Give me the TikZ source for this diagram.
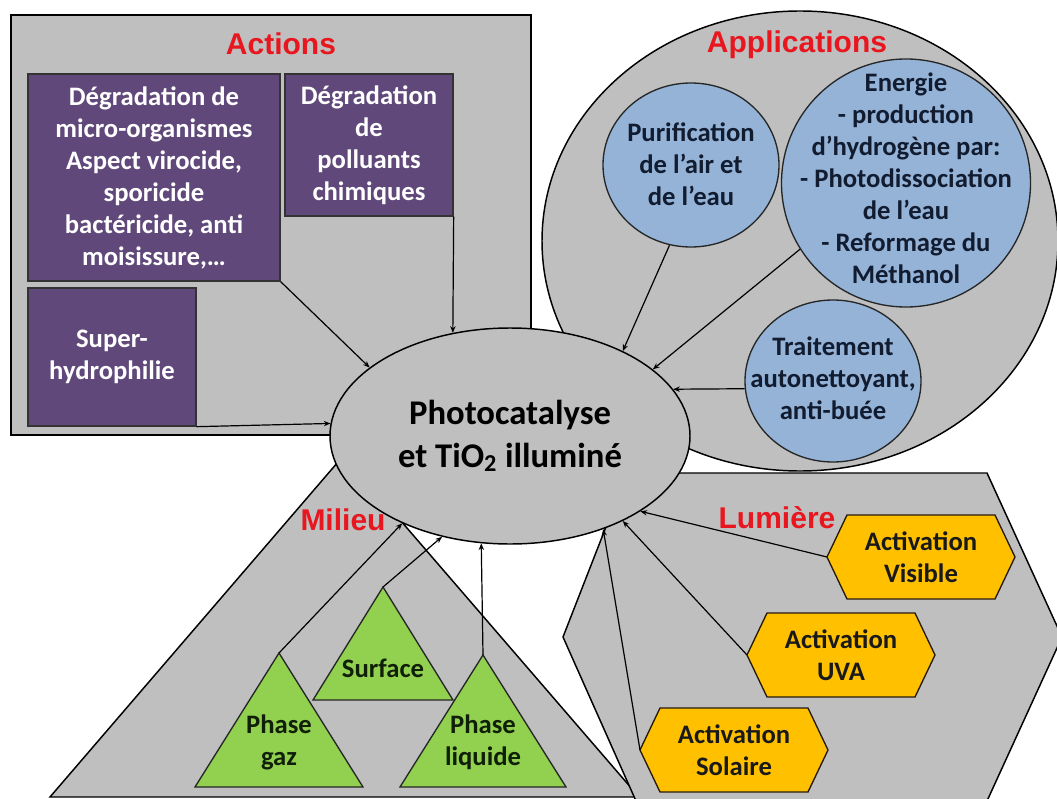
\documentclass[tikz,border=0pt]{standalone}
\usepackage{fontspec}
\setmainfont{Carlito}
\newfontfamily\titlefam{Liberation Sans}
\usetikzlibrary{shapes.geometric,arrows.meta}
\definecolor{regiongray}{RGB}{191,191,191}
\definecolor{boxpurple}{RGB}{96,73,122}
\definecolor{circblue}{RGB}{149,179,215}
\definecolor{hexgold}{RGB}{255,192,0}
\definecolor{trigreen}{RGB}{146,208,80}
\definecolor{titlered}{RGB}{232,22,30}
\definecolor{navytext}{RGB}{18,28,48}
\definecolor{greentext}{RGB}{16,32,8}
\newcommand\bodytext{\fontsize{20}{24}\selectfont\bfseries}
\newcommand\centertext{\fontsize{26}{32}\selectfont\bfseries}
\newcommand\titletext{\titlefam\fontsize{22.5}{26}\selectfont\bfseries}
\def\px{0.75pt}
\newcommand\goldhex[2]{\draw[goldshape] ({#1-94},#2) -- ({#1-74},{#2-42}) -- ({#1+74},{#2-42}) -- ({#1+94},#2) -- ({#1+74},{#2+42}) -- ({#1-74},{#2+42}) -- cycle;}
\begin{document}
\begin{tikzpicture}[x=0.75pt,y=-0.75pt,
  region/.style={draw=black, line width=1.1pt, fill=regiongray},
  regiontitle/.style={font=\titletext, text=titlered},
  purplebox/.style={draw=black!80, line width=1pt, fill=boxpurple, text=white, font=\bodytext, align=center, inner sep=0pt},
  blueshape/.style={ellipse, draw=black!85, line width=1pt, fill=circblue, inner sep=0pt},
  bluetext/.style={font=\bodytext, text=navytext, align=center},
  goldshape/.style={draw=black!80!brown, line width=1pt, fill=hexgold},
  goldtext/.style={font=\bodytext, text=black!90, align=center},
  greenshape/.style={draw=black!85, line width=1pt, fill=trigreen},
  greentxt/.style={font=\bodytext, text=greentext, align=center},
  link/.style={draw=black, line width=0.9pt, -{Stealth[length=5pt,width=4pt]}},
  hub/.style={ellipse, draw=black, line width=1.1pt, fill=regiongray, inner sep=0pt, font=\centertext, align=center}
]
\fill[white] (0,0) rectangle (1057,799);
\useasboundingbox (0,0) rectangle (1057,799);
\clip (0,0) rectangle (1057,799);

% regions
\draw[region] (11,15) rectangle (531,435);
\draw[region] (800,241) ellipse [x radius=258, y radius=230];
\draw[region] (50,797) -- (639,797) -- (344,455) -- cycle;
\draw[region] (563,637) -- (627,473) -- (987,473) -- (1062,637) -- (987,801) -- (636,801) -- cycle;

% region titles
\node[regiontitle] (t-act) at (281,44) {Actions};
\node[regiontitle] (t-app) at (797,45) {Applications};
\node[regiontitle] (t-mil) at (343,520) {Milieu};
\node[regiontitle] (t-lum) at (777,518) {Lumière};

% centre
\node[hub, minimum width=360*\px, minimum height=216*\px] (c) at (510,436) {Photocatalyse\\et TiO\textsubscript{2} illuminé};

% actions
\node[purplebox, minimum width=252*\px, minimum height=207*\px] (b1) at (154,177.5) {Dégradation de\\micro-organismes\\Aspect virocide,\\sporicide\\bactéricide, anti\\moisissure,…};
\node[purplebox, minimum width=168*\px, minimum height=142*\px] (b2) at (369,145) {Dégradation\\de\\polluants\\chimiques};
\node[purplebox, minimum width=168*\px, minimum height=138*\px] (b3) at (112,357) {Super-\\hydrophilie};

% applications
\node[blueshape, minimum width=176*\px, minimum height=164*\px] (pur) at (691,165) {};
\node[bluetext] (pur-t) at (691,164) {Purification\\de l’air et\\de l’eau};
\node[blueshape, minimum width=249*\px, minimum height=248*\px] (ene) at (906,183) {};
\node[bluetext] (ene-t) at (906,178) {Energie\\- production\\d’hydrogène par:\\- Photodissociation\\de l’eau\\- Reformage du\\Méthanol};
\node[blueshape, minimum width=176*\px, minimum height=162*\px] (tra) at (833,381) {};
\node[bluetext] (tra-t) at (833,378) {Traitement\\autonettoyant,\\anti-buée};

% lumiere
\goldhex{921}{557}
\node[goldtext] (vis) at (921,557) {Activation\\Visible};
\coordinate (vis-l) at (827,557);
\goldhex{841}{655}
\node[goldtext] (uva) at (841,655) {Activation\\UVA};
\coordinate (uva-l) at (747,655);
\goldhex{734}{750}
\node[goldtext] (sol) at (734,750) {Activation\\Solaire};
\coordinate (sol-l) at (640,750);

% milieu
\draw[greenshape] (195,787) -- (363,787) -- (279,653) -- cycle;
\coordinate (gaz-top) at (279,653);
\node[greentxt] (gaz) at (279,742) {Phase\\gaz};
\draw[greenshape] (313,700) -- (453,700) -- (383,587) -- cycle;
\coordinate (surf-top) at (383,587);
\node[greentxt] (surf) at (383,668) {Surface};
\draw[greenshape] (400,787) -- (566,787) -- (483,655) -- cycle;
\coordinate (liq-top) at (483,655);
\node[greentxt] (liq) at (483,742) {Phase\\liquide};

% connectors
\draw[link] (b1.south east) -- (c.154.5);
\draw[link] (b2.south east) -- (c.119.3);
\draw[link] (b3.south east) -- (c.176.8);
\draw[link] (pur.255.6) -- (c.37.6);
\draw[link] (ene.212.8) -- (c.25.1);
\draw[link] (tra.185) -- (c.16.3);
\draw[link] (vis-l) -- (c.330.3);
\draw[link] (uva-l) -- (c.323.2);
\draw[link] (sol-l) -- (c.315.6);
\draw[link] (gaz-top) -- (c.219.8);
\draw[link] (surf-top) -- (c.236.7);
\draw[link] (liq-top) -- (c.255.8);
\end{tikzpicture}
\end{document}
